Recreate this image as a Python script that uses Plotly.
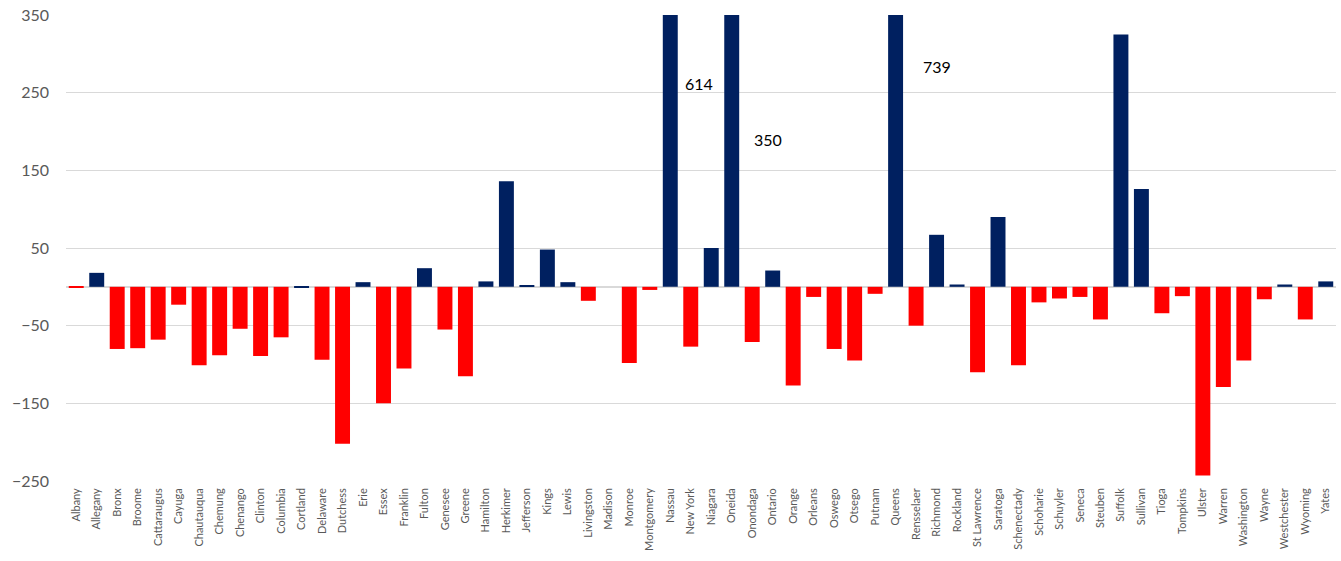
import plotly.graph_objects as go

counties = ["Albany", "Allegany", "Bronx", "Broome", "Cattaraugus", "Cayuga", "Chautauqua", "Chemung",
            "Chenango", "Clinton", "Columbia", "Cortland", "Delaware", "Dutchess", "Erie", "Essex",
            "Franklin", "Fulton", "Genesee", "Greene", "Hamilton", "Herkimer", "Jefferson", "Kings",
            "Lewis", "Livingston", "Madison", "Monroe", "Montgomery", "Nassau", "New York", "Niagara",
            "Oneida", "Onondaga", "Ontario", "Orange", "Orleans", "Oswego", "Otsego", "Putnam",
            "Queens", "Rensselaer", "Richmond", "Rockland", "St Lawrence", "Saratoga", "Schenectady",
            "Schoharie", "Schuyler", "Seneca", "Steuben", "Suffolk", "Sullivan", "Tioga", "Tompkins",
            "Ulster", "Warren", "Washington", "Wayne", "Westchester", "Wyoming", "Yates"]

values = [-1, 18, -80, -79, -68, -23, -101, -88,
          -54, -89, -65, -1, -94, -202, 6, -150,
          -105, 24, -55, -115, 7, 136, 2, 48,
          6, -18, 0, -98, -4, 614, -77, 50,
          350, -71, 21, -127, -13, -80, -95, -9,
          739, -50, 67, 3, -110, 90, -101,
          -20, -15, -13, -42, 325, 126, -34, -12,
          -243, -129, -95, -16, 3, -42, 7]

yticks = [-250, -150, -50, 50, 150, 250, 350]

# labels for bars that run past the top of the axis
clip_labels = ["614", "350", "739"]
clip_label_x = [30.42, 33.78, 42.0]
clip_label_y = [262, 190, 284]

NAVY = "#002060"
RED = "#FF0000"
colors = [NAVY if v >= 0 else RED for v in values]
colors[counties.index("Cortland")] = NAVY

fig = go.Figure(go.Bar(x=counties, y=values, marker=dict(color=colors, line=dict(width=0)),
                       cliponaxis=True))

for t, xx, yy in zip(clip_labels, clip_label_x, clip_label_y):
    fig.add_annotation(x=xx, y=yy, xref="x", yref="y", text=t, showarrow=False,
                       font=dict(family="Lato", size=16, color="#000000"))

fig.update_layout(
    width=1341, height=561,
    margin=dict(l=66, r=5, t=15, b=80),
    plot_bgcolor="white", paper_bgcolor="white",
    bargap=0.27,
    showlegend=False,
    font=dict(family="Lato"),
)
fig.update_xaxes(
    type="category",
    tickangle=-90,
    tickfont=dict(family="Lato", size=11, color="#595959"),
    showgrid=False, showline=False, ticks="",
    ticklabelstandoff=4,
)
fig.update_yaxes(
    range=[-250, 350],
    tickvals=yticks,
    tickfont=dict(family="Lato", size=16, color="#595959"),
    showgrid=True, gridcolor="#D9D9D9", gridwidth=1,
    zeroline=True, zerolinecolor="#D9D9D9", zerolinewidth=1.5,
    showline=False, ticks="",
    ticklabelstandoff=16,
)

fig.write_html("out.html")
